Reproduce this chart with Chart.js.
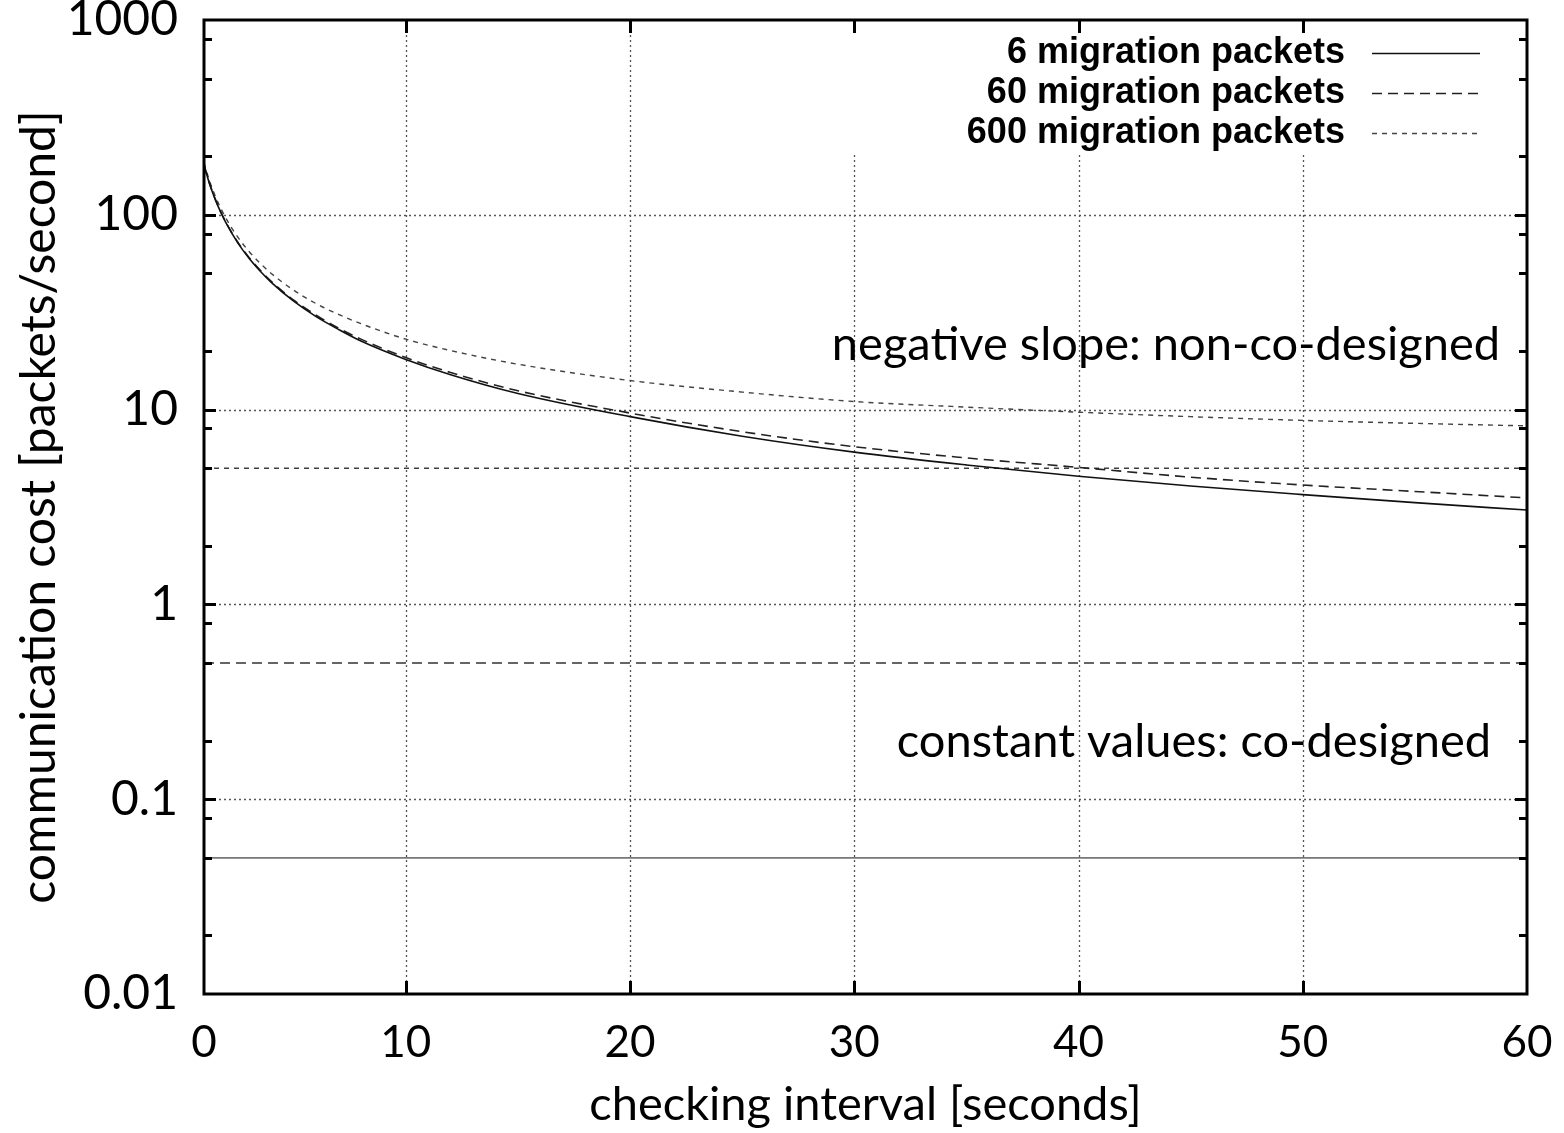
<!DOCTYPE html>
<html>
<head>
<meta charset="utf-8">
<script src="https://cdn.jsdelivr.net/npm/chart.js@4.4.1/dist/chart.umd.min.js"></script>
<style>
  html, body { margin: 0; padding: 0; background: #fff; }
  #wrap { width: 1564px; height: 1133px; }
</style>
</head>
<body>
<div id="wrap"><canvas id="c" width="1564" height="1133"></canvas></div>
<script>
// checking interval [s] and communication cost [packets/s]
const interval = [1, 1.25, 1.5, 1.75, 2, 2.5, 3, 3.5, 4, 5, 6, 7, 8, 10, 12, 15, 20, 25, 30, 35, 40, 45, 50, 55, 60];
const cost6   = [180, 144, 120, 103, 90, 72, 60, 51.5, 45, 36, 30, 25.8, 22.5, 18.1, 15.1, 12.1, 9.2, 7.3, 6.05, 5.2, 4.55, 4.05, 3.66, 3.33, 3.05];
const cost60  = [180, 144.5, 120.5, 103.4, 90.5, 72.5, 60.5, 52, 45.5, 36.5, 30.5, 26.2, 23, 18.5, 15.5, 12.5, 9.6, 7.7, 6.45, 5.65, 5.05, 4.5, 4.1, 3.8, 3.52];
const cost600 = [185, 149, 125, 108, 95, 77, 65, 56.5, 50, 41, 35, 30.8, 27.6, 23, 20.1, 17.1, 14.1, 12.3, 11.0, 10.3, 9.7, 9.2, 8.8, 8.5, 8.25];
// co-designed: constant cost per scheme
const constCost = [0.05, 0.5, 5];

const seriesNames = ['6 migration packets', '60 migration packets', '600 migration packets'];

const xTicks      = [1, 10, 20, 30, 40, 50, 60];
const xTickLabels = ['0', '10', '20', '30', '40', '50', '60'];
const yMajor      = [0.01, 0.1, 1, 10, 100, 1000];
const yMajorLabels = ['0.01', '0.1', '1', '10', '100', '1000'];
const yMinorSteps = [2, 5, 8];

const styles = [
  { color: '#111', dash: [],      width: 1.6, constColor: '#777' },
  { color: '#222', dash: [10, 6], width: 1.6, constColor: '#333' },
  { color: '#444', dash: [5, 5],  width: 1.4, constColor: '#333' },
];

const notes = [
  { text: 'negative slope: non-co-designed', x: 58.8, y: 21.5 },
  { text: 'constant values: co-designed',   x: 58.4, y: 0.198 },
];

const curves = [cost6, cost60, cost600];
const datasets = curves.map((arr, i) => ({
  label: seriesNames[i],
  data: interval.map((t, k) => ({ x: t, y: arr[k] })),
  borderColor: styles[i].color,
  borderDash: styles[i].dash,
  borderWidth: styles[i].width,
  cubicInterpolationMode: 'monotone',
}));
constCost.forEach((c, i) => datasets.push({
  label: seriesNames[i] + ' (const)',
  data: [{ x: interval[0], y: c }, { x: interval[interval.length - 1], y: c }],
  borderColor: styles[i].constColor,
  borderDash: styles[i].dash,
  borderWidth: styles[i].width,
}));

const yTickList = [];
yMajor.forEach((v, i) => {
  yTickList.push({ value: v, lbl: yMajorLabels[i], major: true });
  if (i < yMajor.length - 1) yMinorSteps.forEach(s => yTickList.push({ value: v * s, lbl: '', major: false }));
});

const FONT = 'Lato';

const framePlugin = {
  id: 'frame',
  beforeDatasetsDraw(chart) {
    const { ctx, chartArea: a, scales: { x, y } } = chart;
    ctx.save();
    ctx.strokeStyle = '#555';
    ctx.lineWidth = 1.3;
    ctx.setLineDash([2, 3]);
    xTicks.slice(1, -1).forEach(v => {
      const px = Math.round(x.getPixelForValue(v)) + 0.5;
      ctx.beginPath(); ctx.moveTo(px, a.top); ctx.lineTo(px, a.bottom); ctx.stroke();
    });
    yMajor.slice(1, -1).forEach(v => {
      const py = Math.round(y.getPixelForValue(v)) + 0.5;
      ctx.beginPath(); ctx.moveTo(a.left, py); ctx.lineTo(a.right, py); ctx.stroke();
    });
    // key box hides the grid behind it
    ctx.fillStyle = '#fff';
    ctx.fillRect(830, a.top, a.right - 830, 134);
    ctx.restore();
  },
  afterDatasetsDraw(chart) {
    const { ctx, chartArea: a, scales: { x, y } } = chart;
    ctx.save();
    ctx.strokeStyle = '#000';
    ctx.lineWidth = 3;
    ctx.setLineDash([]);
    // inner tick marks
    y.ticks.forEach(t => {
      if (t.value <= yMajor[0] || t.value >= yMajor[yMajor.length - 1]) return;
      const py = Math.round(y.getPixelForValue(t.value)) + 0.5;
      const len = t.major ? 12 : 8;
      ctx.beginPath();
      ctx.moveTo(a.left, py); ctx.lineTo(a.left + len, py);
      ctx.moveTo(a.right, py); ctx.lineTo(a.right - len, py);
      ctx.stroke();
    });
    xTicks.slice(1, -1).forEach(v => {
      const px = Math.round(x.getPixelForValue(v)) + 0.5;
      ctx.beginPath();
      ctx.moveTo(px, a.bottom); ctx.lineTo(px, a.bottom - 13);
      ctx.moveTo(px, a.top); ctx.lineTo(px, a.top + 13);
      ctx.stroke();
    });
    ctx.strokeRect(a.left, a.top, a.right - a.left, a.bottom - a.top);

    // key
    ctx.font = 'bold 36px "Liberation Sans"';
    ctx.textAlign = 'right';
    ctx.textBaseline = 'middle';
    ctx.fillStyle = '#000';
    seriesNames.forEach((name, i) => {
      const ry = a.top + 33 + i * 40;
      ctx.fillText(name, a.right - 182, ry);
      ctx.strokeStyle = styles[i].color;
      ctx.lineWidth = styles[i].width;
      ctx.setLineDash(styles[i].dash);
      ctx.beginPath(); ctx.moveTo(a.right - 155, ry + 0.5); ctx.lineTo(a.right - 47, ry + 0.5); ctx.stroke();
    });

    // notes
    ctx.font = '47px ' + FONT;
    ctx.fillStyle = '#000';
    notes.forEach(n => ctx.fillText(n.text, x.getPixelForValue(n.x), y.getPixelForValue(n.y)));
    ctx.restore();
  },
};

new Chart(document.getElementById('c'), {
  type: 'line',
  data: { datasets },
  options: {
    responsive: false,
    animation: false,
    layout: { padding: { top: 20, right: 37, left: 0, bottom: 0 } },
    elements: { point: { radius: 0 } },
    plugins: { legend: { display: false }, tooltip: { enabled: false } },
    scales: {
      x: {
        type: 'linear',
        min: 1, max: 60,
        afterBuildTicks: s => { s.ticks = xTicks.map(v => ({ value: v })); },
        afterFit: s => { s.height = 139; s.paddingLeft = 0; s.paddingRight = 0; },
        ticks: {
          autoSkip: false, maxRotation: 0, padding: 22, color: '#000',
          font: { family: FONT, size: 44 },
          callback: (v, i) => xTickLabels[i],
        },
        grid: { display: false, drawTicks: false },
        border: { display: false },
        title: {
          display: true, text: 'checking interval [seconds]', color: '#000',
          font: { family: FONT, size: 47 }, padding: { top: 0, bottom: 0 },
        },
      },
      y: {
        type: 'logarithmic',
        min: 0.01, max: 1000,
        afterBuildTicks: s => { s.ticks = yTickList.map(t => ({ ...t })); },
        afterFit: s => { s.width = 204; s.paddingTop = 0; s.paddingBottom = 0; },
        ticks: {
          autoSkip: false, padding: 26, color: '#000',
          font: { family: FONT, size: 48 },
          callback: (v, i, ticks) => ticks[i].lbl,
        },
        grid: { display: false, drawTicks: false },
        border: { display: false },
        title: {
          display: true, text: 'communication cost [packets/second]', color: '#000',
          font: { family: FONT, size: 48 }, padding: { top: 11, bottom: 0 },
        },
      },
    },
  },
  plugins: [framePlugin],
});
</script>
</body>
</html>
